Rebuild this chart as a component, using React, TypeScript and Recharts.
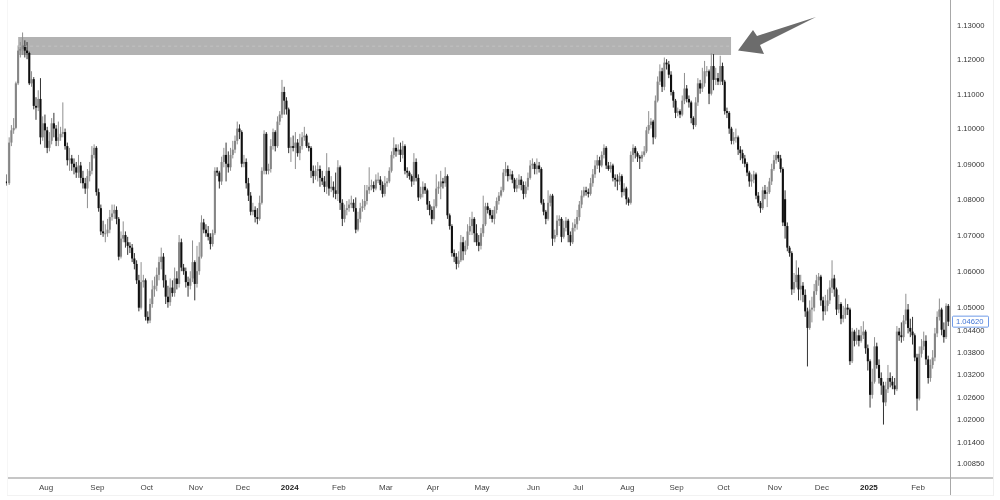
import { BarChart, Bar, XAxis, YAxis, ReferenceArea, ReferenceLine } from "recharts";

const monthTicks = [17, 40, 62, 84, 105, 126, 148, 169, 190, 212, 235, 255, 277, 299, 320, 343, 364, 385, 407];
const monthLabels = ["Aug", "Sep", "Oct", "Nov", "Dec", "2024", "Feb", "Mar", "Apr", "May", "Jun", "Jul", "Aug", "Sep", "Oct", "Nov", "Dec", "2025", "Feb"];
const priceTicks = [1.13, 1.12, 1.11, 1.1, 1.09, 1.08, 1.07, 1.06, 1.05, 1.044, 1.038, 1.032, 1.026, 1.02, 1.014, 1.0085];
const lastPrice = 1.0462;

const opens = [
  1.0850,1.0845,1.0960,1.0995,1.1002,1.1130,1.1225,1.1230,1.1240,1.1225,
  1.1218,1.1130,1.1142,1.1065,1.1060,1.1085,1.0975,1.1015,1.0995,1.0945,
  1.0965,1.1015,1.1000,1.0965,1.0975,1.0985,1.0990,1.0950,1.0910,1.0915,
  1.0900,1.0890,1.0875,1.0895,1.0860,1.0845,1.0830,1.0865,1.0880,1.0925,
  1.0945,1.0820,1.0775,1.0710,1.0705,1.0705,1.0715,1.0750,1.0760,1.0770,
  1.0745,1.0640,1.0690,1.0700,1.0680,1.0670,1.0665,1.0635,1.0620,1.0575,
  1.0500,1.0570,1.0575,1.0475,1.0465,1.0510,1.0550,1.0560,1.0590,1.0625,
  1.0640,1.0575,1.0530,1.0515,1.0555,1.0540,1.0580,1.0565,1.0680,1.0610,
  1.0600,1.0570,1.0560,1.0580,1.0625,1.0565,1.0600,1.0640,1.0735,1.0715,
  1.0705,1.0695,1.0675,1.0705,1.0880,1.0875,1.0850,1.0905,1.0925,1.0900,
  1.0890,1.0925,1.0940,1.0965,1.1000,1.0990,1.0900,1.0905,1.0845,1.0810,
  1.0765,1.0770,1.0750,1.0745,1.0790,1.0880,1.0985,1.0880,1.0885,1.0950,
  1.0990,1.0950,1.1020,1.1040,1.1105,1.1080,1.1055,1.0945,1.0950,1.0945,
  1.0960,1.0930,1.0950,1.0975,1.0980,1.0950,1.0945,1.0880,1.0865,1.0880,
  1.0885,1.0860,1.0850,1.0835,1.0880,1.0830,1.0835,1.0825,1.0815,1.0890,
  1.0790,1.0745,1.0770,1.0775,1.0785,1.0790,1.0775,1.0715,1.0745,1.0775,
  1.0780,1.0795,1.0825,1.0835,1.0840,1.0830,1.0855,1.0855,1.0840,1.0815,
  1.0845,1.0850,1.0880,1.0925,1.0945,1.0935,1.0940,1.0925,1.0950,1.0880,
  1.0875,1.0865,1.0850,1.0905,1.0860,1.0805,1.0815,1.0835,1.0825,1.0785,
  1.0770,1.0745,1.0780,1.0830,1.0835,1.0850,1.0845,1.0865,1.0755,1.0725,
  1.0650,1.0640,1.0620,1.0630,1.0680,1.0655,1.0670,1.0710,1.0725,1.0745,
  1.0705,1.0680,1.0670,1.0705,1.0730,1.0780,1.0770,1.0755,1.0745,1.0770,
  1.0795,1.0810,1.0825,1.0875,1.0885,1.0865,1.0870,1.0855,1.0830,1.0840,
  1.0855,1.0840,1.0815,1.0835,1.0860,1.0895,1.0900,1.0885,1.0895,1.0885,
  1.0790,1.0765,1.0745,1.0790,1.0810,1.0690,1.0700,1.0740,1.0745,1.0695,
  1.0720,1.0740,1.0700,1.0680,1.0720,1.0730,1.0750,1.0785,1.0810,1.0825,
  1.0820,1.0815,1.0845,1.0870,1.0895,1.0910,1.0895,1.0925,1.0945,1.0895,
  1.0885,1.0895,1.0860,1.0855,1.0850,1.0865,1.0820,1.0830,1.0800,1.0790,
  1.0925,1.0945,1.0930,1.0920,1.0915,1.0925,1.0935,1.0995,1.1010,1.1020,
  1.0975,1.1080,1.1135,1.1165,1.1120,1.1190,1.1185,1.1155,1.1105,1.1080,
  1.1045,1.1050,1.1040,1.1080,1.1115,1.1085,1.1075,1.1030,1.1010,1.1075,
  1.1130,1.1115,1.1130,1.1165,1.1165,1.1100,1.1180,1.1140,1.1145,1.1135,
  1.1180,1.1135,1.1050,1.1045,1.1000,1.0965,1.0975,1.0975,1.0940,1.0930,
  1.0915,1.0900,1.0875,1.0850,1.0855,1.0870,1.0810,1.0790,1.0775,1.0825,
  1.0815,1.0820,1.0850,1.0885,1.0910,1.0925,1.0915,1.0885,1.0800,1.0725,
  1.0665,1.0650,1.0550,1.0570,1.0590,1.0550,1.0560,1.0535,1.0490,1.0445,
  1.0495,1.0500,1.0545,1.0575,1.0585,1.0520,1.0490,1.0505,1.0520,1.0555,
  1.0580,1.0550,1.0495,1.0510,1.0470,1.0480,1.0500,1.0495,1.0355,1.0435,
  1.0410,1.0425,1.0410,1.0425,1.0435,1.0390,1.0355,1.0265,1.0300,1.0395,
  1.0345,1.0310,1.0290,1.0245,1.0280,1.0310,1.0300,1.0290,1.0280,1.0435,
  1.0425,1.0420,1.0465,1.0495,1.0445,1.0435,1.0425,1.0365,1.0255,1.0375,
  1.0395,1.0410,1.0360,1.0310,1.0345,1.0365,1.0430,1.0475,1.0495,1.0440,
  1.0420,1.0505,
];

const closes = [
  1.0845,1.0960,1.0995,1.1002,1.1130,1.1225,1.1230,1.1240,1.1225,1.1218,
  1.1130,1.1142,1.1065,1.1060,1.1085,1.0975,1.1015,1.0995,1.0945,1.0965,
  1.1015,1.1000,1.0965,1.0975,1.0985,1.0990,1.0950,1.0910,1.0915,1.0900,
  1.0890,1.0875,1.0895,1.0860,1.0845,1.0830,1.0865,1.0880,1.0925,1.0945,
  1.0820,1.0775,1.0710,1.0705,1.0705,1.0715,1.0750,1.0760,1.0770,1.0745,
  1.0640,1.0690,1.0700,1.0680,1.0670,1.0665,1.0635,1.0620,1.0575,1.0500,
  1.0570,1.0575,1.0475,1.0465,1.0510,1.0550,1.0560,1.0590,1.0625,1.0640,
  1.0575,1.0530,1.0515,1.0555,1.0540,1.0580,1.0565,1.0680,1.0610,1.0600,
  1.0570,1.0560,1.0580,1.0625,1.0565,1.0600,1.0640,1.0735,1.0715,1.0705,
  1.0695,1.0675,1.0705,1.0880,1.0875,1.0850,1.0905,1.0925,1.0900,1.0890,
  1.0925,1.0940,1.0965,1.1000,1.0990,1.0900,1.0905,1.0845,1.0810,1.0765,
  1.0770,1.0750,1.0745,1.0790,1.0880,1.0985,1.0880,1.0885,1.0950,1.0990,
  1.0950,1.1020,1.1040,1.1105,1.1080,1.1055,1.0945,1.0950,1.0945,1.0960,
  1.0930,1.0950,1.0975,1.0980,1.0950,1.0945,1.0880,1.0865,1.0880,1.0885,
  1.0860,1.0850,1.0835,1.0880,1.0830,1.0835,1.0825,1.0815,1.0890,1.0790,
  1.0745,1.0770,1.0775,1.0785,1.0790,1.0775,1.0715,1.0745,1.0775,1.0780,
  1.0795,1.0825,1.0835,1.0840,1.0830,1.0855,1.0855,1.0840,1.0815,1.0845,
  1.0850,1.0880,1.0925,1.0945,1.0935,1.0940,1.0925,1.0950,1.0880,1.0875,
  1.0865,1.0850,1.0905,1.0860,1.0805,1.0815,1.0835,1.0825,1.0785,1.0770,
  1.0745,1.0780,1.0830,1.0835,1.0850,1.0845,1.0865,1.0755,1.0725,1.0650,
  1.0640,1.0620,1.0630,1.0680,1.0655,1.0670,1.0710,1.0725,1.0745,1.0705,
  1.0680,1.0670,1.0705,1.0730,1.0780,1.0770,1.0755,1.0745,1.0770,1.0795,
  1.0810,1.0825,1.0875,1.0885,1.0865,1.0870,1.0855,1.0830,1.0840,1.0855,
  1.0840,1.0815,1.0835,1.0860,1.0895,1.0900,1.0885,1.0895,1.0885,1.0790,
  1.0765,1.0745,1.0790,1.0810,1.0690,1.0700,1.0740,1.0745,1.0695,1.0720,
  1.0740,1.0700,1.0680,1.0720,1.0730,1.0750,1.0785,1.0810,1.0825,1.0820,
  1.0815,1.0845,1.0870,1.0895,1.0910,1.0895,1.0925,1.0945,1.0895,1.0885,
  1.0895,1.0860,1.0855,1.0850,1.0865,1.0820,1.0830,1.0800,1.0790,1.0925,
  1.0945,1.0930,1.0920,1.0915,1.0925,1.0935,1.0995,1.1010,1.1020,1.0975,
  1.1080,1.1135,1.1165,1.1120,1.1190,1.1185,1.1155,1.1105,1.1080,1.1045,
  1.1050,1.1040,1.1080,1.1115,1.1085,1.1075,1.1030,1.1010,1.1075,1.1130,
  1.1115,1.1130,1.1165,1.1165,1.1100,1.1180,1.1140,1.1145,1.1135,1.1180,
  1.1135,1.1050,1.1045,1.1000,1.0965,1.0975,1.0975,1.0940,1.0930,1.0915,
  1.0900,1.0875,1.0850,1.0855,1.0870,1.0810,1.0790,1.0775,1.0825,1.0815,
  1.0820,1.0850,1.0885,1.0910,1.0925,1.0915,1.0885,1.0735,1.0725,1.0665,
  1.0650,1.0550,1.0570,1.0590,1.0550,1.0560,1.0535,1.0490,1.0445,1.0495,
  1.0500,1.0545,1.0575,1.0585,1.0520,1.0490,1.0505,1.0520,1.0555,1.0580,
  1.0550,1.0495,1.0510,1.0470,1.0480,1.0500,1.0495,1.0355,1.0435,1.0410,
  1.0425,1.0410,1.0425,1.0435,1.0390,1.0355,1.0265,1.0300,1.0395,1.0345,
  1.0310,1.0290,1.0245,1.0280,1.0310,1.0300,1.0290,1.0280,1.0435,1.0425,
  1.0420,1.0465,1.0495,1.0445,1.0435,1.0425,1.0365,1.0255,1.0375,1.0395,
  1.0410,1.0360,1.0310,1.0345,1.0365,1.0430,1.0475,1.0495,1.0440,1.0420,
  1.0505,1.0462,
];

const highs = [
  1.0870,1.0975,1.1010,1.1030,1.1135,1.1240,1.1250,1.1278,1.1255,1.1250,
  1.1222,1.1165,1.1148,1.1090,1.1110,1.1145,1.1035,1.1040,1.1005,1.0990,
  1.1030,1.1045,1.1010,1.1020,1.1005,1.1075,1.1000,1.0960,1.0945,1.0925,
  1.0915,1.0905,1.0925,1.0905,1.0880,1.0860,1.0885,1.0905,1.0950,1.0955,
  1.0950,1.0830,1.0785,1.0740,1.0730,1.0745,1.0770,1.0785,1.0785,1.0780,
  1.0750,1.0710,1.0738,1.0710,1.0695,1.0680,1.0675,1.0650,1.0630,1.0590,
  1.0625,1.0590,1.0580,1.0490,1.0525,1.0575,1.0585,1.0610,1.0640,1.0665,
  1.0650,1.0590,1.0560,1.0580,1.0575,1.0610,1.0600,1.0700,1.0690,1.0620,
  1.0610,1.0585,1.0600,1.0685,1.0630,1.0670,1.0680,1.0755,1.0745,1.0730,
  1.0725,1.0705,1.0715,1.0890,1.0890,1.0880,1.0920,1.0945,1.0960,1.0935,
  1.0945,1.0965,1.0980,1.1020,1.1012,1.0995,1.0925,1.0915,1.0860,1.0820,
  1.0790,1.0780,1.0775,1.0810,1.0890,1.0995,1.0990,1.0900,1.0970,1.1000,
  1.0995,1.1035,1.1050,1.1140,1.1120,1.1090,1.1060,1.0975,1.0980,1.0990,
  1.0970,1.0985,1.0990,1.1005,1.0985,1.0960,1.0950,1.0895,1.0895,1.0905,
  1.0895,1.0880,1.0865,1.0930,1.0890,1.0865,1.0850,1.0875,1.0910,1.0895,
  1.0800,1.0785,1.0795,1.0800,1.0810,1.0800,1.0805,1.0765,1.0790,1.0800,
  1.0840,1.0840,1.0890,1.0855,1.0850,1.0870,1.0875,1.0865,1.0850,1.0865,
  1.0860,1.0890,1.0935,1.0975,1.0955,1.0955,1.0960,1.0965,1.0955,1.0890,
  1.0880,1.0870,1.0930,1.0915,1.0870,1.0835,1.0850,1.0845,1.0830,1.0795,
  1.0780,1.0800,1.0870,1.0850,1.0880,1.0860,1.0890,1.0870,1.0760,1.0730,
  1.0660,1.0650,1.0655,1.0700,1.0695,1.0685,1.0730,1.0750,1.0765,1.0750,
  1.0730,1.0700,1.0720,1.0810,1.0790,1.0790,1.0775,1.0770,1.0780,1.0805,
  1.0820,1.0835,1.0885,1.0905,1.0895,1.0885,1.0880,1.0860,1.0860,1.0870,
  1.0865,1.0850,1.0850,1.0875,1.0910,1.0915,1.0905,1.0915,1.0905,1.0890,
  1.0800,1.0770,1.0825,1.0815,1.0815,1.0715,1.0755,1.0755,1.0750,1.0740,
  1.0750,1.0745,1.0710,1.0735,1.0745,1.0770,1.0795,1.0825,1.0835,1.0835,
  1.0830,1.0860,1.0885,1.0910,1.0925,1.0920,1.0935,1.0955,1.0950,1.0905,
  1.0905,1.0900,1.0870,1.0870,1.0875,1.0870,1.0845,1.0835,1.0805,1.0935,
  1.0955,1.0950,1.0935,1.0925,1.0935,1.0950,1.1005,1.1050,1.1030,1.1025,
  1.1095,1.1150,1.1185,1.1175,1.1205,1.1200,1.1195,1.1165,1.1110,1.1085,
  1.1060,1.1055,1.1095,1.1160,1.1125,1.1095,1.1080,1.1035,1.1090,1.1145,
  1.1140,1.1175,1.1195,1.1180,1.1170,1.1217,1.1215,1.1175,1.1160,1.1210,
  1.1190,1.1140,1.1060,1.1050,1.1005,1.0990,1.1000,1.0980,1.0950,1.0940,
  1.0925,1.0905,1.0880,1.0870,1.0880,1.0875,1.0820,1.0795,1.0835,1.0840,
  1.0835,1.0860,1.0900,1.0925,1.0935,1.0935,1.0925,1.0890,1.0825,1.0735,
  1.0670,1.0655,1.0595,1.0630,1.0610,1.0590,1.0570,1.0550,1.0500,1.0520,
  1.0530,1.0565,1.0590,1.0595,1.0590,1.0530,1.0535,1.0550,1.0575,1.0630,
  1.0590,1.0555,1.0535,1.0515,1.0505,1.0525,1.0510,1.0500,1.0445,1.0440,
  1.0445,1.0440,1.0450,1.0463,1.0440,1.0400,1.0360,1.0335,1.0420,1.0405,
  1.0360,1.0325,1.0300,1.0300,1.0345,1.0325,1.0315,1.0310,1.0450,1.0445,
  1.0460,1.0480,1.0538,1.0510,1.0470,1.0475,1.0430,1.0375,1.0395,1.0415,
  1.0435,1.0425,1.0370,1.0360,1.0385,1.0445,1.0490,1.0525,1.0500,1.0460,
  1.0512,1.0510,
];

const lows = [
  1.0838,1.0840,1.0950,1.0985,1.0998,1.1125,1.1205,1.1212,1.1205,1.1200,
  1.1125,1.1120,1.1055,1.1025,1.1050,1.0955,1.0965,1.0945,1.0930,1.0935,
  1.0955,1.0975,1.0950,1.0950,1.0965,1.0975,1.0940,1.0895,1.0880,1.0880,
  1.0870,1.0860,1.0860,1.0845,1.0830,1.0815,1.0775,1.0850,1.0870,1.0915,
  1.0810,1.0765,1.0700,1.0695,1.0680,1.0695,1.0705,1.0740,1.0745,1.0730,
  1.0630,1.0635,1.0680,1.0665,1.0645,1.0650,1.0625,1.0605,1.0565,1.0490,
  1.0495,1.0555,1.0465,1.0457,1.0458,1.0500,1.0530,1.0545,1.0575,1.0605,
  1.0555,1.0510,1.0500,1.0505,1.0530,1.0530,1.0550,1.0555,1.0600,1.0590,
  1.0555,1.0530,1.0550,1.0570,1.0520,1.0555,1.0590,1.0635,1.0705,1.0695,
  1.0685,1.0660,1.0668,1.0700,1.0865,1.0830,1.0840,1.0890,1.0850,1.0875,
  1.0880,1.0915,1.0930,1.0955,1.0970,1.0890,1.0890,1.0830,1.0795,1.0755,
  1.0755,1.0735,1.0730,1.0740,1.0785,1.0870,1.0870,1.0870,1.0875,1.0940,
  1.0935,1.0945,1.1010,1.1030,1.1040,1.1040,1.0930,1.0905,1.0935,1.0885,
  1.0920,1.0910,1.0940,1.0965,1.0945,1.0935,1.0860,1.0845,1.0855,1.0850,
  1.0835,1.0840,1.0820,1.0815,1.0810,1.0820,1.0805,1.0800,1.0795,1.0770,
  1.0725,1.0735,1.0755,1.0765,1.0775,1.0765,1.0705,1.0710,1.0735,1.0765,
  1.0770,1.0785,1.0815,1.0825,1.0820,1.0825,1.0845,1.0825,1.0805,1.0808,
  1.0835,1.0845,1.0875,1.0915,1.0920,1.0925,1.0905,1.0915,1.0870,1.0860,
  1.0855,1.0835,1.0840,1.0850,1.0795,1.0800,1.0805,1.0815,1.0770,1.0755,
  1.0730,1.0740,1.0775,1.0815,1.0800,1.0830,1.0835,1.0745,1.0715,1.0640,
  1.0625,1.0605,1.0610,1.0625,1.0630,1.0645,1.0660,1.0700,1.0700,1.0680,
  1.0670,1.0655,1.0660,1.0695,1.0725,1.0760,1.0745,1.0735,1.0730,1.0760,
  1.0785,1.0805,1.0820,1.0865,1.0850,1.0855,1.0845,1.0820,1.0820,1.0830,
  1.0825,1.0800,1.0805,1.0825,1.0855,1.0885,1.0870,1.0870,1.0875,1.0785,
  1.0755,1.0730,1.0740,1.0780,1.0670,1.0680,1.0695,1.0725,1.0680,1.0690,
  1.0710,1.0680,1.0670,1.0675,1.0710,1.0715,1.0740,1.0775,1.0805,1.0810,
  1.0805,1.0810,1.0835,1.0860,1.0885,1.0875,1.0890,1.0915,1.0885,1.0880,
  1.0875,1.0850,1.0835,1.0825,1.0840,1.0805,1.0810,1.0785,1.0782,1.0785,
  1.0905,1.0915,1.0905,1.0885,1.0905,1.0920,1.0930,1.0985,1.1000,1.0955,
  1.0970,1.1075,1.1125,1.1105,1.1110,1.1170,1.1145,1.1095,1.1060,1.1030,
  1.1035,1.1030,1.1035,1.1070,1.1075,1.1060,1.1015,1.0998,1.1005,1.1065,
  1.1100,1.1105,1.1120,1.1150,1.1070,1.1095,1.1110,1.1125,1.1125,1.1125,
  1.1125,1.1040,1.1030,1.0985,1.0955,1.0955,1.0960,1.0925,1.0910,1.0900,
  1.0890,1.0865,1.0835,1.0835,1.0845,1.0800,1.0780,1.0762,1.0770,1.0800,
  1.0778,1.0815,1.0840,1.0880,1.0900,1.0905,1.0875,1.0725,1.0690,1.0655,
  1.0640,1.0535,1.0540,1.0555,1.0520,1.0520,1.0515,1.0475,1.0341,1.0440,
  1.0460,1.0490,1.0535,1.0560,1.0505,1.0465,1.0480,1.0490,1.0510,1.0540,
  1.0530,1.0480,1.0485,1.0455,1.0460,1.0470,1.0480,1.0345,1.0350,1.0395,
  1.0400,1.0395,1.0405,1.0415,1.0375,1.0330,1.0231,1.0255,1.0295,1.0335,
  1.0295,1.0265,1.0186,1.0235,1.0270,1.0285,1.0280,1.0265,1.0275,1.0410,
  1.0405,1.0410,1.0455,1.0430,1.0420,1.0400,1.0355,1.0223,1.0250,1.0365,
  1.0385,1.0345,1.0295,1.0300,1.0335,1.0355,1.0420,1.0465,1.0425,1.0405,
  1.0415,1.0450,
];

const candles = closes.map((close, i) => ({
  i,
  open: opens[i],
  close,
  high: highs[i],
  low: lows[i],
  range: [lows[i], highs[i]],
}));

const UP = "#858585";
const DOWN = "#101010";

// wick comes from the bar itself, the body is placed on the same log scale between low and high
const Candle = (props: any) => {
  const { x, y, width, height, payload } = props;
  const top = Math.min(y, y + height);
  const h = Math.abs(height);
  const span = Math.log(payload.high) - Math.log(payload.low);
  const toY = (v: number) => top + (h * (Math.log(payload.high) - Math.log(v))) / span;
  const up = payload.close >= payload.open;
  const color = up ? UP : DOWN;
  const yO = toY(payload.open);
  const yC = toY(payload.close);
  const cx = x + width / 2;
  return (
    <g>
      <line x1={cx} x2={cx} y1={top} y2={top + h} stroke={up ? "#8f8f8f" : "#333"} strokeWidth={1} />
      <rect x={x} width={width} y={Math.min(yO, yC)} height={Math.max(Math.abs(yO - yC), 1)} fill={color} />
    </g>
  );
};

const PriceTick = ({ x, y, payload }: any) => {
  if (payload.value === lastPrice) {
    return (
      <g>
        <rect x={x - 5.5} y={y - 5.5} width={36} height={11} rx={1} fill="#fff" stroke="#6f9be8" strokeWidth={1} />
        <text x={x - 2} y={y + 2.8} fontSize={7.6} fill="#3f74d6">{payload.value.toFixed(5)}</text>
      </g>
    );
  }
  return <text x={x - 1} y={y + 2.8} fontSize={7.6} fill="#333">{payload.value.toFixed(5)}</text>;
};

const MonthTick = ({ x, y, payload }: any) => {
  const label = monthLabels[monthTicks.indexOf(payload.value)];
  const isYear = label.length === 4;
  return (
    <text x={x + 1} y={y + 5} textAnchor="middle" fontSize={8} fill={isYear ? "#222" : "#444"} fontWeight={isYear ? 700 : 400}>
      {label}
    </text>
  );
};

const frame = (left: number, top: number, width: number, height: number, background: string) => (
  <div style={{ position: "absolute", left, top, width, height, background }} />
);

const App = () => (
  <div style={{ position: "absolute", left: 0, top: 0, width: 1000, height: 500, background: "#fff", fontFamily: "'Liberation Sans', sans-serif", overflow: "hidden", filter: "blur(0.35px)" }}>
    <BarChart
      width={1000}
      height={500}
      data={candles}
      margin={{ top: 0, right: 0, bottom: 0, left: 0 }}
      barCategoryGap={0}
    >
      <XAxis
        xAxisId={0}
        type="number"
        dataKey="i"
        domain={[-3.13, 421.72]}
        allowDataOverflow
        ticks={monthTicks}
        interval={0}
        height={23}
        axisLine={false}
        tickLine={false}
        tick={<MonthTick />}
      />
      <YAxis
        yAxisId={0}
        orientation="right"
        scale="log"
        domain={[1.00483, 1.13735]}
        allowDataOverflow
        ticks={[...priceTicks, lastPrice]}
        interval={0}
        width={50}
        axisLine={false}
        tickLine={false}
        tick={<PriceTick />}
      />
      <ReferenceArea x1={5} x2={323.8} y1={1.1212} y2={1.1265} fill="#b2b2b2" fillOpacity={1} stroke="none" />
      <ReferenceLine
        segment={[{ x: 5, y: 1.1238 }, { x: 323.8, y: 1.1238 }]}
        stroke="#c2c2c2"
        strokeDasharray="3 3"
        strokeWidth={1}
      />
      <Bar dataKey="range" barSize={2.1} shape={<Candle />} isAnimationActive={false} />
    </BarChart>
    {frame(7, 477, 986, 2, "#c6c6c6")}
    {frame(950, 0, 1, 496, "#a8a8a8")}
    {frame(7, 0, 1, 496, "#f6f6f6")}
    {frame(993, 0, 1, 496, "#f0f0f0")}
    {frame(7, 495, 986, 1, "#f2f2f2")}
    <svg width={1000} height={500} style={{ position: "absolute", left: 0, top: 0, pointerEvents: "none" }}>
      <polygon points="816,17 757,36 753,30 738,50.5 764,54 760,45" fill="#6c6c6c" />
    </svg>
  </div>
);

export default App;
